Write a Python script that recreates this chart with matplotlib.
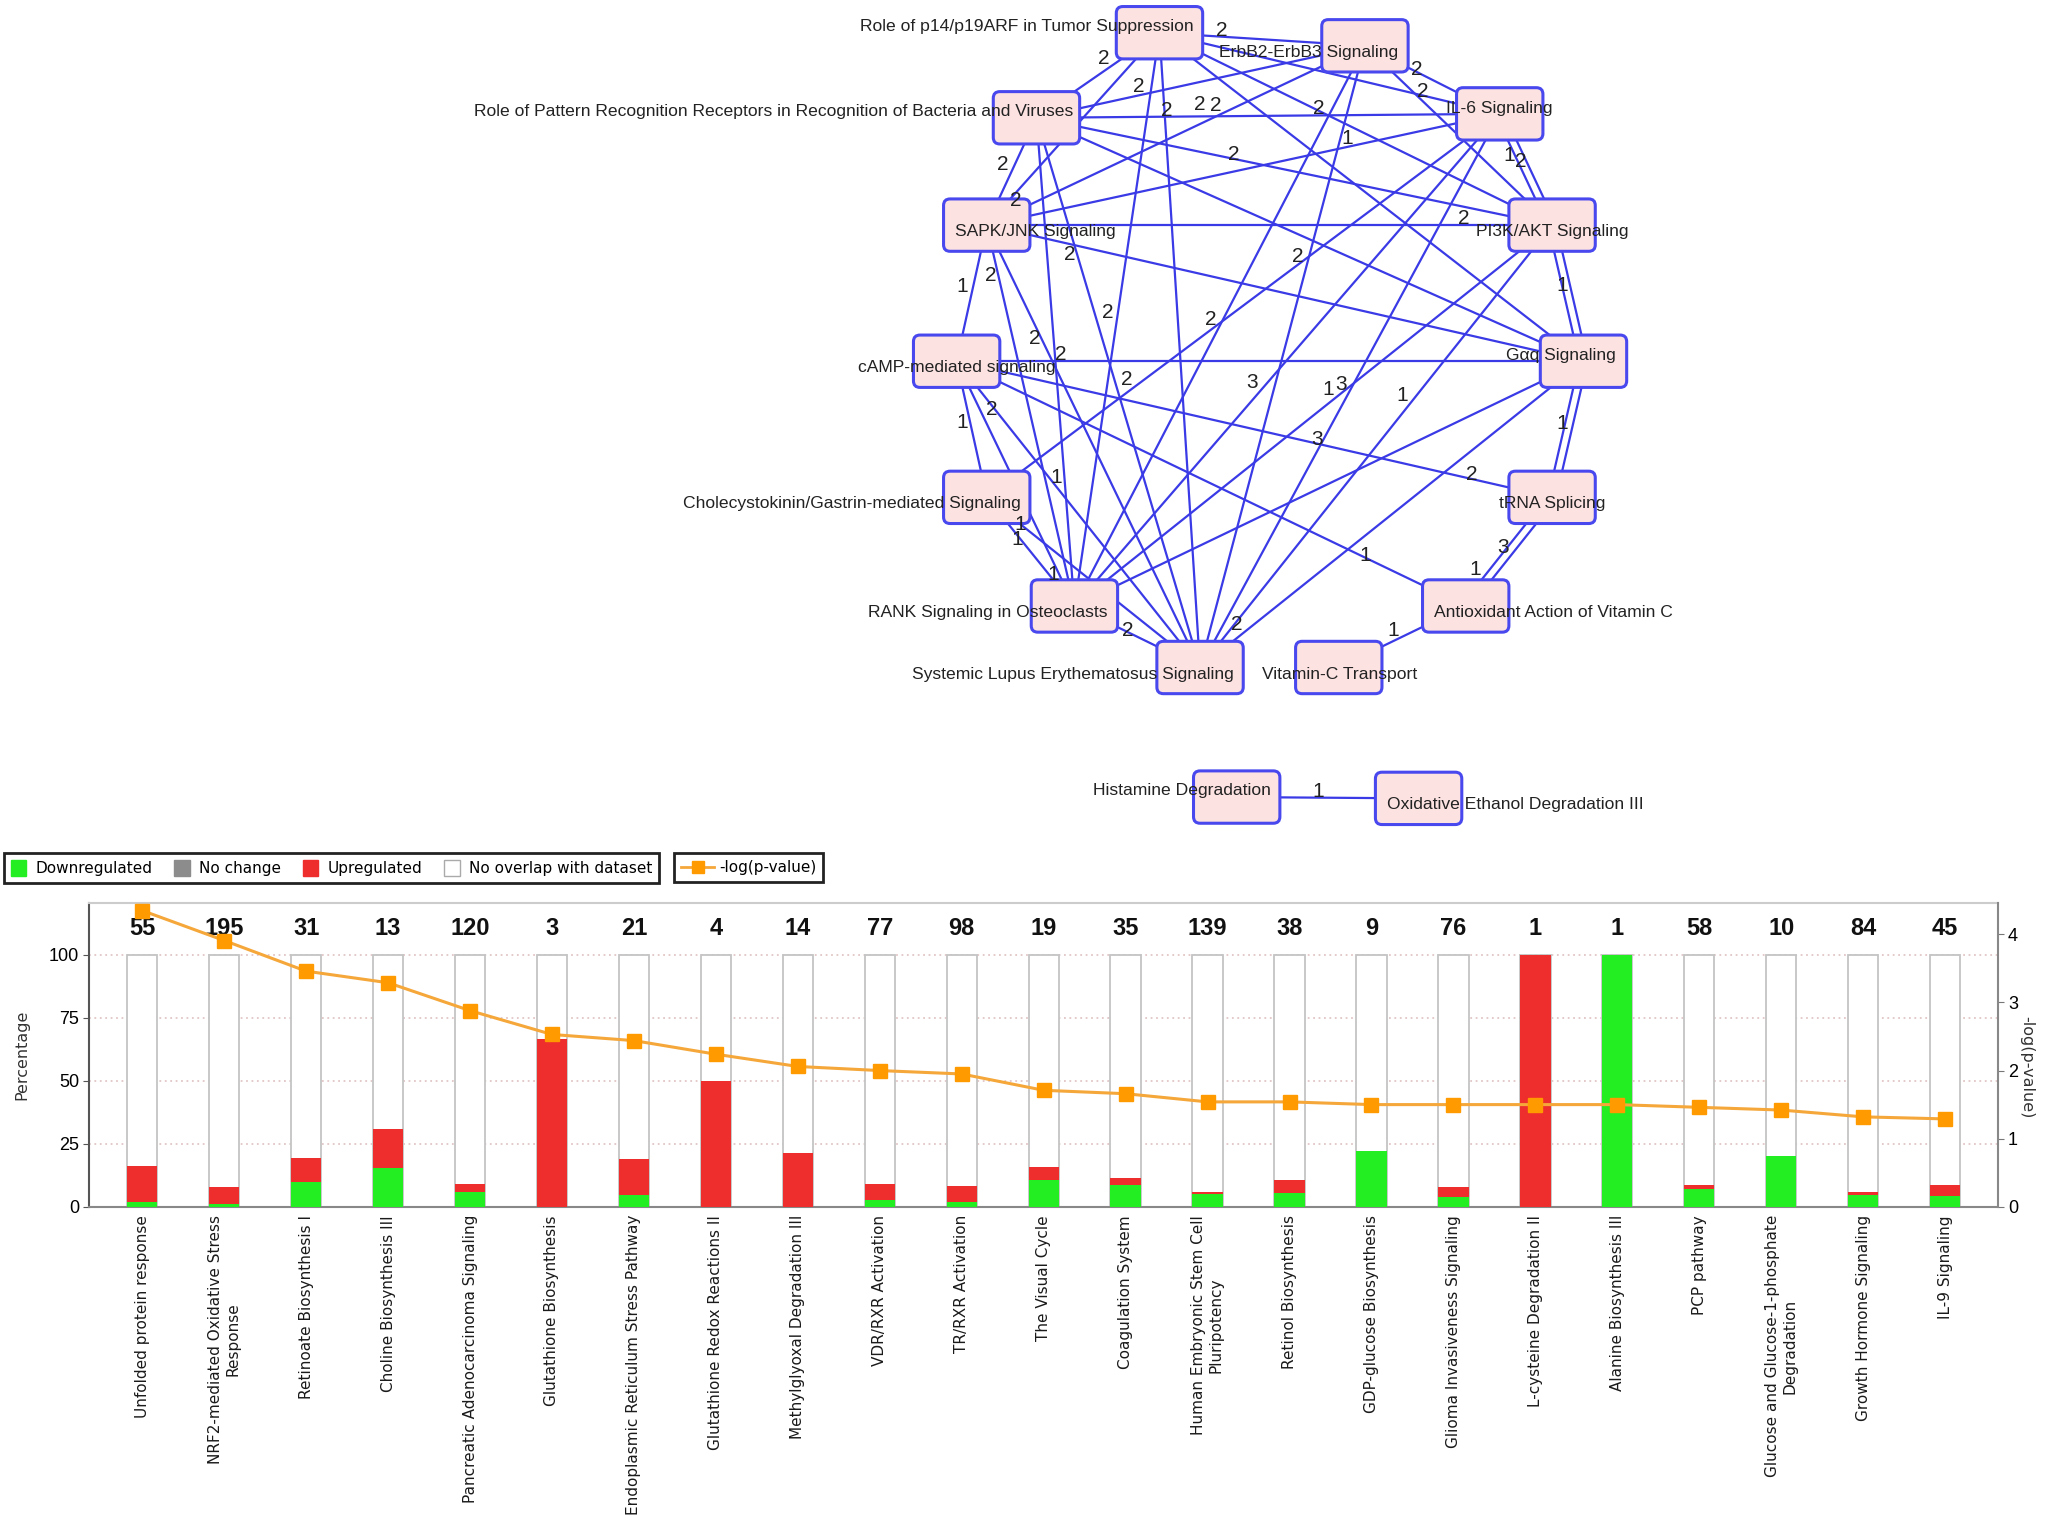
import numpy as np
import matplotlib
matplotlib.use("Agg")
from matplotlib import pyplot as plt
from matplotlib.patches import FancyBboxPatch, Patch
from matplotlib.lines import Line2D

### Pathway network (top) + canonical pathway bar chart (bottom)

# ---- bar chart data ----
pathways = ["Unfolded protein response", "NRF2-mediated Oxidative Stress\nResponse",
            "Retinoate Biosynthesis I", "Choline Biosynthesis III",
            "Pancreatic Adenocarcinoma Signaling", "Glutathione Biosynthesis",
            "Endoplasmic Reticulum Stress Pathway", "Glutathione Redox Reactions II",
            "Methylglyoxal Degradation III", "VDR/RXR Activation", "TR/RXR Activation",
            "The Visual Cycle", "Coagulation System",
            "Human Embryonic Stem Cell\nPluripotency", "Retinol Biosynthesis",
            "GDP-glucose Biosynthesis", "Glioma Invasiveness Signaling",
            "L-cysteine Degradation II", "Alanine Biosynthesis III", "PCP pathway",
            "Glucose and Glucose-1-phosphate\nDegradation", "Growth Hormone Signaling",
            "IL-9 Signaling"]
molecules = [55, 195, 31, 13, 120, 3, 21, 4, 14, 77, 98, 19, 35, 139, 38, 9, 76, 1, 1, 58, 10, 84, 45]
down_pct = [1.8, 1.0, 9.7, 15.4, 5.8, 0, 4.8, 0, 0, 2.6, 2.0, 10.5, 8.6, 5.0, 5.3, 22.2, 3.9, 0, 100, 6.9, 20.0, 4.8, 4.4]
up_pct = [14.5, 6.7, 9.7, 15.4, 3.3, 66.7, 14.3, 50.0, 21.4, 6.5, 6.1, 5.3, 2.9, 0.7, 5.3, 0, 3.9, 100, 0, 1.7, 0, 1.2, 4.4]
neglogp = [4.35, 3.91, 3.46, 3.29, 2.88, 2.53, 2.44, 2.24, 2.06, 2.00, 1.95, 1.71, 1.66, 1.54, 1.54,
           1.50, 1.50, 1.50, 1.50, 1.46, 1.42, 1.32, 1.29]

# ---- network data (layout in sketch units, 1568 x 1169 canvas) ----
node_names = ["Role of p14/p19ARF in Tumor Suppression", "ErbB2-ErbB3 Signaling", "IL-6 Signaling",
              "PI3K/AKT Signaling", "Gαq Signaling", "tRNA Splicing",
              "Antioxidant Action of Vitamin C", "Vitamin-C Transport",
              "Systemic Lupus Erythematosus Signaling", "RANK Signaling in Osteoclasts",
              "Cholecystokinin/Gastrin-mediated Signaling", "cAMP-mediated signaling",
              "SAPK/JNK Signaling",
              "Role of Pattern Recognition Receptors in Recognition of Bacteria and Viruses",
              "Histamine Degradation", "Oxidative Ethanol Degradation III"]
node_x = [886, 1043, 1146, 1186, 1210, 1186, 1120, 1023, 917, 821, 754, 731, 754, 792, 945, 1084]
node_y = [25, 35, 87, 172, 276, 380, 463, 510, 510, 463, 380, 276, 172, 90, 609, 610]
label_dx = [-101, -43, 0, 0, -17, 0, 67, 1, -97, -66, -103, 0, 37, -201, -42, 74]
label_dy = [-5, 5, -4, 5, -4, 5, 5, 5, 5, 5, 5, 5, 5, -5, -5, 5]

# (source, target, shared molecules, label position along edge)
edges = [(0, 1, 2, .35), (0, 13, 2, .38), (0, 2, 2, .8), (0, 3, 2, .43), (0, 4, 1, None),
         (0, 12, 2, None), (0, 9, 2, .5), (0, 8, 2, None),
         (1, 2, 2, .45), (1, 3, 1, None), (1, 12, 2, .37), (1, 9, 2, .5), (1, 8, 2, .35),
         (13, 1, 2, .34), (13, 2, 2, .3), (13, 3, 2, .4), (13, 4, 2, None), (13, 12, 2, .5),
         (13, 9, 1, .75), (13, 8, 2, .26),
         (2, 12, 1, .28), (2, 3, 2, .5), (2, 3, 1, .42), (2, 9, 3, .56), (2, 8, 3, .5), (10, 2, 2, .29),
         (3, 12, 2, .14), (3, 4, 1, .5), (3, 4, 1, None), (3, 9, 1, .45), (3, 8, 1, .4),
         (12, 4, 2, None), (11, 4, 2, .18), (4, 5, 1, .5), (4, 5, 1, None), (4, 9, 2, None),
         (4, 8, 2, .88), (11, 5, 3, .62),
         (5, 6, 3, .5), (5, 6, 1, .75), (6, 11, 1, .18), (6, 7, 1, .5),
         (8, 9, 2, .5), (8, 12, 2, .73), (8, 11, 2, .82), (8, 10, 1, .8),
         (9, 10, 1, .55), (9, 11, 1, .1), (9, 12, 2, .85),
         (10, 11, 1, .5), (12, 11, 1, .5), (14, 15, 1, .5)]
# extra weight labels sitting beside an edge: (source, target, text, position, dx, dy)
extra_labels = [(12, 1, "2", .1, -7, -5), (5, 11, "2", .12, -7, -5), (0, 8, "2", .12, 27, -3)]

green = "#22ee22"
red = "#ee2d2d"
orange_line = "#f5a73a"
orange_mark = "#ff9a00"
edge_blue = "#3a3ae6"
narrow = ["Liberation Sans Narrow", "Liberation Sans", "DejaVu Sans"]
arial = ["Liberation Sans", "DejaVu Sans"]

W, H = 1568, 1169
fig = plt.figure(figsize=(20.52, 15.30), dpi=100)

# ---------------- network ----------------
ax_net = fig.add_axes([0, 0, 1, 1])
ax_net.set_xlim(0, W)
ax_net.set_ylim(H, 0)
ax_net.axis("off")

pair_total = {}
for a, b, w, t in edges:
    key = tuple(sorted((a, b)))
    pair_total[key] = pair_total.get(key, 0) + 1
pair_seen = {}

for a, b, w, t in edges:
    key = tuple(sorted((a, b)))
    k = pair_seen.get(key, 0)
    pair_seen[key] = k + 1
    x0, y0, x1, y1 = node_x[a], node_y[a], node_x[b], node_y[b]
    L = np.hypot(x1 - x0, y1 - y0)
    nx, ny = -(y1 - y0) / L, (x1 - x0) / L
    off = (k - (pair_total[key] - 1) / 2) * 6
    ax_net.plot([x0 + nx * off, x1 + nx * off], [y0 + ny * off, y1 + ny * off],
                color=edge_blue, lw=1.6, zorder=1, solid_capstyle="round")
    if t is not None:
        px, py = x0 + t * (x1 - x0) + nx * off, y0 + t * (y1 - y0) + ny * off
        ax_net.text(px - 7, py - 5, str(w), fontsize=15, color="#222222",
                    family=arial, ha="center", va="center", zorder=4)

for a, b, s, t, dx, dy in extra_labels:
    px = node_x[a] + t * (node_x[b] - node_x[a])
    py = node_y[a] + t * (node_y[b] - node_y[a])
    ax_net.text(px + dx, py + dy, s, fontsize=15, color="#222222",
                family=arial, ha="center", va="center", zorder=4)

bw, bh = 66, 40
for i, name in enumerate(node_names):
    box = FancyBboxPatch((node_x[i] - bw / 2, node_y[i] - bh / 2), bw, bh,
                         boxstyle="round,pad=0,rounding_size=5",
                         facecolor="#fde2e2", edgecolor="#4848ee", linewidth=2.2, zorder=2)
    ax_net.add_patch(box)
    ax_net.text(node_x[i] + label_dx[i], node_y[i] + label_dy[i], name, fontsize=12.6,
                color="#222222", family=arial, ha="center", va="center", zorder=3)

# ---------------- bar chart ----------------
n = len(pathways)
x = np.arange(n)
ax = fig.add_axes([68 / W, 1 - 922 / H, (1527 - 68) / W, (922 - 690) / H])
ax.bar(x, [100] * n, width=0.37, color="white", edgecolor="#c4c4c4", linewidth=1.3, zorder=2)
ax.bar(x, down_pct, width=0.37, color=green, zorder=3)
ax.bar(x, up_pct, bottom=down_pct, width=0.37, color=red, zorder=3)
for i, m in enumerate(molecules):
    ax.text(i, 110.5, str(m), ha="center", va="center", fontsize=17,
            fontweight="bold", family=narrow, color="#111111")

ax.set_xlim(-0.65, n - 0.35)
ax.set_ylim(0, 120.4)
ax.set_yticks([0, 25, 50, 75, 100])
ax.yaxis.grid(True, linestyle=(0, (1, 2)), color="#e2c6c6", linewidth=1.3)
ax.set_axisbelow(True)
ax.set_xticks(x)
ax.set_xticklabels(pathways, rotation=90, ha="center", va="top", fontsize=11,
                   multialignment="center", color="#1a1a1a")
ax.tick_params(axis="x", length=0, pad=6)
ax.tick_params(axis="y", length=4, color="#555555", labelsize=13, pad=3)
for lab in ax.get_yticklabels():
    lab.set_family(narrow)
ax.set_ylabel("Percentage", fontsize=11.5, color="#333333")
ax.yaxis.set_label_coords(-0.031, 0.5)
ax.spines["top"].set_color("#cccccc")
ax.spines["left"].set_color("#555555")
ax.spines["bottom"].set_color("#888888")
ax.spines["right"].set_visible(False)
for sp in ax.spines.values():
    sp.set_linewidth(1.5)

ax2 = ax.twinx()
ax2.plot(x, neglogp, color=orange_line, lw=2.2, marker="s", markersize=10,
         markerfacecolor=orange_mark, markeredgecolor=orange_mark, zorder=5)
ax2.set_ylim(0, 4.46)
ax2.set_yticks([0, 1, 2, 3, 4])
ax2.tick_params(axis="y", length=4, color="#777777", labelsize=13, pad=3)
for lab in ax2.get_yticklabels():
    lab.set_family(narrow)
ax2.set_ylabel("-log(p-value)", fontsize=11.5, color="#333333", rotation=270)
ax2.yaxis.set_label_coords(1.019, 0.46)
for s in ["top", "left", "bottom"]:
    ax2.spines[s].set_visible(False)
ax2.spines["right"].set_color("#888888")
ax2.spines["right"].set_linewidth(1.5)

# ---------------- legends ----------------
h1 = [Patch(facecolor=green, edgecolor=green), Patch(facecolor="#8c8c8c", edgecolor="#8c8c8c"),
      Patch(facecolor=red, edgecolor=red), Patch(facecolor="white", edgecolor="#aaaaaa")]
leg1 = fig.legend(h1, ["Downregulated", "No change", "Upregulated", "No overlap with dataset"],
                  loc="upper left", bbox_to_anchor=(3 / W, 1 - 652 / H), ncol=4, fontsize=11,
                  handlelength=1.0, handleheight=1.2, handletextpad=0.6, columnspacing=1.45,
                  borderpad=0.45, borderaxespad=0, fancybox=False, edgecolor="#222222",
                  framealpha=1)
leg1.get_frame().set_linewidth(2)
h2 = [Line2D([0], [0], color=orange_line, lw=2, marker="s", markersize=9,
             markerfacecolor=orange_mark, markeredgecolor=orange_mark)]
leg2 = fig.legend(h2, ["-log(p-value)"], loc="upper left", bbox_to_anchor=(515 / W, 1 - 652 / H),
                  fontsize=11, handlelength=2.2, handletextpad=0.3, borderpad=0.45,
                  borderaxespad=0, fancybox=False, edgecolor="#222222", framealpha=1)
leg2.get_frame().set_linewidth(2)

fig.savefig("out.png", dpi=100, facecolor="white")
